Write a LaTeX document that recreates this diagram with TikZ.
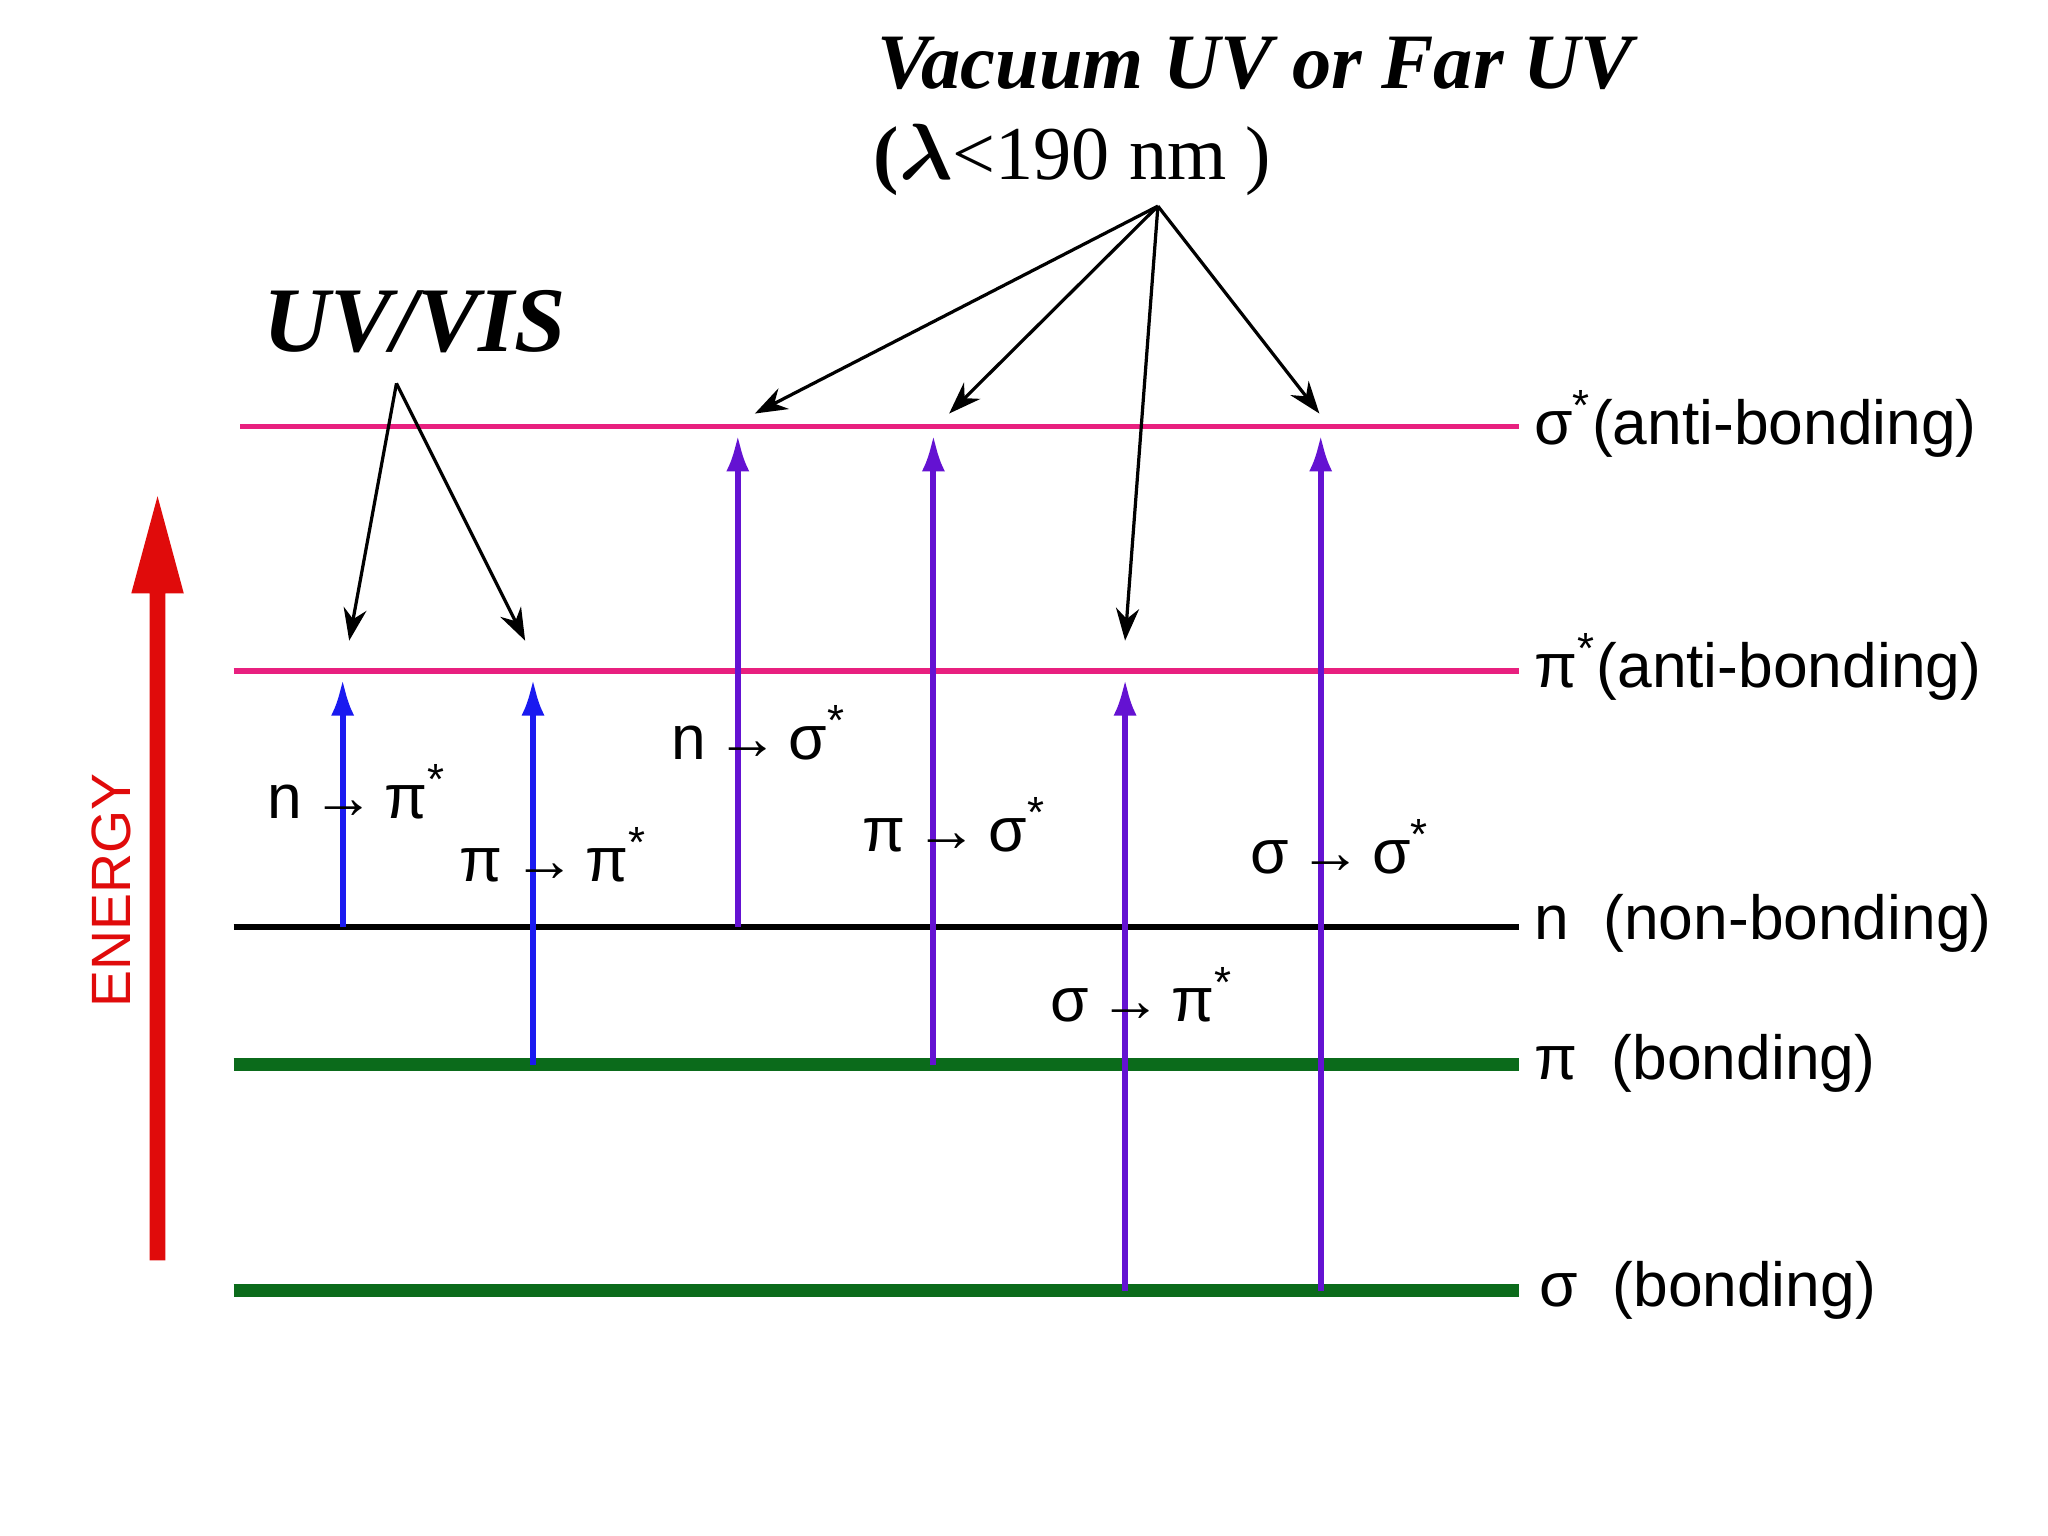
\documentclass[tikz,border=0pt]{standalone}
\usepackage{amsmath}
\usepackage{fontspec}
\setmainfont{Liberation Serif}
\newfontfamily\lsans{Liberation Sans}
\usetikzlibrary{arrows.meta}
\definecolor{pinkl}{HTML}{E8207F}
\definecolor{greenl}{HTML}{0B6B1B}
\definecolor{bluea}{HTML}{1A1AF0}
\definecolor{purpa}{HTML}{6412D2}
\definecolor{redE}{HTML}{E00B0B}
\newcommand{\tarr}{\,\textbf{→}\,}
\tikzset{
 lvl/.style={line width=1.2pt},
 trans/.style={line width=1.3pt,-{Latex[length=8pt,width=5pt]}},
 lab/.style={font=\lsans\fontsize{13.5pt}{14pt}\selectfont,anchor=west,inner sep=0pt},
 tlab/.style={font=\lsans\fontsize{13.5pt}{14pt}\selectfont,inner sep=0pt},
 ptr/.style={line width=0.7pt,-{Stealth[length=7pt,width=5pt]}}
}
\begin{document}
\begin{tikzpicture}[x=0.01cm,y=-0.01cm]
\useasboundingbox (0,0) rectangle (1560,1170);
% levels
\draw[lvl,pinkl] (183,325) -- (1157,325);
\draw[lvl,pinkl] (178,511) -- (1157,511);
\draw[lvl,black] (178,706) -- (1157,706);
\draw[greenl,line width=2.8pt] (178,811) -- (1157,811);
\draw[greenl,line width=2.8pt] (178,983) -- (1157,983);
% right labels
\node[lab] (Ls) at (1168,323) {σ\textsuperscript{*}(anti-bonding)};
\node[lab] (Lp) at (1168,508) {π\textsuperscript{*}(anti-bonding)};
\node[lab] (Ln) at (1168,703) {n\ \ (non-bonding)};
\node[lab] (Lpb) at (1168,810) {π\ \ (bonding)};
\node[lab] (Lsb) at (1172,983) {σ\ \ (bonding)};
% coordinates
\foreach \n/\x/\a/\b in {a/261/706/511, b/406/811/511, c/562/706/325, d/711/811/325, e/857/983/511, f/1006/983/325}{
  \coordinate (\n0) at (\x,\a); \coordinate (\n1) at (\x,\b+6);}
\draw[trans,bluea] (a0) -- (a1);
\draw[trans,bluea] (b0) -- (b1);
\draw[trans,purpa] (c0) -- (c1);
\draw[trans,purpa] (d0) -- (d1);
\draw[trans,purpa] (e0) -- (e1);
\draw[trans,purpa] (f0) -- (f1);
% transition labels
\node[tlab] (t1) at (272,603) {n\tarr π\textsuperscript{*}};
\node[tlab] (t2) at (422,651) {π\tarr π\textsuperscript{*}};
\node[tlab] (t3) at (578,558) {n\tarr σ\textsuperscript{*}};
\node[tlab] (t4) at (727,628) {π\tarr σ\textsuperscript{*}};
\node[tlab] (t5) at (870,758) {σ\tarr π\textsuperscript{*}};
\node[tlab] (t6) at (1021,645) {σ\tarr σ\textsuperscript{*}};
% titles
\node[font=\bfseries\itshape\fontsize{17pt}{20pt}\selectfont,anchor=west,inner sep=0pt] (vuv) at (668,48) {Vacuum UV or Far UV};
\node[font=\fontsize{16.5pt}{20pt}\selectfont,anchor=west,inner sep=0pt] (lam) at (665,122) {\textbf{(}$\boldsymbol{\lambda}$<190 nm )};
\node[font=\bfseries\itshape\fontsize{20pt}{24pt}\selectfont,anchor=west,inner sep=0pt] (uvvis) at (200,245) {UV/VIS};
\coordinate (p1) at (302,292);
\coordinate (p2) at (882,157);
\coordinate (q1) at (266,488); \coordinate (q2) at (400,488);
\coordinate (r1) at (575,315); \coordinate (r2) at (723,315);
\coordinate (r3) at (857,488); \coordinate (r4) at (1005,315);
\draw[ptr] (p1) -- (q1); \draw[ptr] (p1) -- (q2);
\draw[ptr] (p2) -- (r1); \draw[ptr] (p2) -- (r2);
\draw[ptr] (p2) -- (r3); \draw[ptr] (p2) -- (r4);
% energy arrow
\coordinate (e0) at (120,960); \coordinate (eT) at (120,378);
\fill[redE] (114,960) -- (114,452) -- (100,452) -- (eT) -- (140,452) -- (126,452) -- (126,960) -- cycle;
\node[redE,rotate=90,font=\lsans\fontsize{12pt}{14pt}\selectfont,inner sep=0pt] (en) at (85,678) {ENERGY};
\end{tikzpicture}
\end{document}
